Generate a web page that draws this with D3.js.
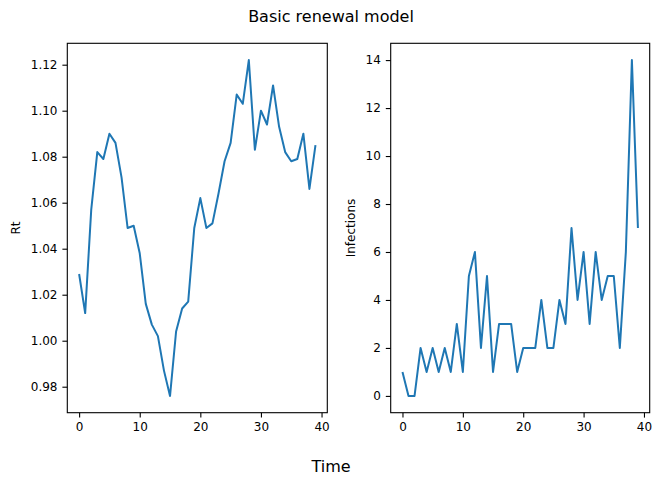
<!DOCTYPE html>
<html>
<head>
<meta charset="utf-8">
<script src="https://cdn.jsdelivr.net/npm/d3@7"></script>
<style>
  html, body { margin: 0; padding: 0; background: #fff; }
  svg text { font-family: "DejaVu Sans", sans-serif; fill: #000; }
</style>
</head>
<body>
<svg id="chart" width="661" height="484"></svg>
<script>
// ---- data ----
const time = d3.range(40);
const rtValues = [1.029,1.012,1.057,1.082,1.079,1.090,1.086,1.071,1.049,1.050,
                  1.038,1.016,1.007,1.002,0.987,0.976,1.004,1.014,1.017,1.049,
                  1.062,1.049,1.051,1.064,1.078,1.086,1.107,1.103,1.122,1.083,
                  1.100,1.094,1.111,1.093,1.082,1.078,1.079,1.090,1.066,1.085];
const infections = [1,0,0,2,1,2,1,2,1,3,1,5,6,2,5,1,3,3,3,1,
                    2,2,2,4,2,2,4,3,7,4,6,3,6,4,5,5,2,6,14,7];
const xTicks = [0,10,20,30,40];
const rtTicks = [0.98,1.00,1.02,1.04,1.06,1.08,1.10,1.12];
const infTicks = [0,2,4,6,8,10,12,14];
const title = "Basic renewal model";
const xLabel = "Time";

const svg = d3.select("#chart");
const color = "#1f77b4";
const tickFont = 12;

function panel(opts) {
  const {left, right, top, bottom, values, yTicks, yFmt, yLabel, yLabelX} = opts;
  const n = values.length;
  const xm = (n - 1) * 0.05;
  const x = d3.scaleLinear().domain([-xm, n - 1 + xm]).range([left, right]);
  const ymin = d3.min(values), ymax = d3.max(values);
  const ym = (ymax - ymin) * 0.05;
  const y = d3.scaleLinear().domain([ymin - ym, ymax + ym]).range([bottom, top]);

  const g = svg.append("g");
  g.append("path")
    .datum(values)
    .attr("fill", "none")
    .attr("stroke", color)
    .attr("stroke-width", 2)
    .attr("stroke-linejoin", "round")
    .attr("stroke-linecap", "butt")
    .attr("d", d3.line().x((d, i) => x(time[i])).y(d => y(d)));

  const xa = g.append("g").attr("transform", `translate(0,${bottom})`)
    .call(d3.axisBottom(x).tickValues(xTicks).tickSize(4.9).tickPadding(4.9).tickFormat(d3.format("d")));
  const ya = g.append("g").attr("transform", `translate(${left},0)`)
    .call(d3.axisLeft(y).tickValues(yTicks).tickSize(4.9).tickPadding(4.9).tickFormat(yFmt));
  [xa, ya].forEach(a => {
    a.select(".domain").remove();
    a.selectAll("line").attr("stroke", "#000").attr("stroke-width", 1.1);
    a.selectAll("text").style("font-family", '"DejaVu Sans", sans-serif').style("font-size", tickFont + "px").attr("fill", "#000");
  });
  g.append("rect")
    .attr("x", left).attr("y", top)
    .attr("width", right - left).attr("height", bottom - top)
    .attr("fill", "none").attr("stroke", "#000").attr("stroke-width", 1.1);
  g.append("text")
    .attr("transform", `translate(${yLabelX},${(top + bottom) / 2}) rotate(-90)`)
    .attr("text-anchor", "middle")
    .style("font-size", tickFont + "px")
    .text(yLabel);
}

panel({left: 67.3, right: 327.3, top: 43.3, bottom: 412.7, values: rtValues,
       yTicks: rtTicks, yFmt: d3.format(".2f"), yLabel: "Rt", yLabelX: 20});
panel({left: 390.7, right: 649.7, top: 43.3, bottom: 412.7, values: infections,
       yTicks: infTicks, yFmt: d3.format("d"), yLabel: "Infections", yLabelX: 355});

svg.append("text").attr("x", 331).attr("y", 22).attr("text-anchor", "middle")
  .style("font-size", "16px").text(title);
svg.append("text").attr("x", 331).attr("y", 472).attr("text-anchor", "middle")
  .style("font-size", "16px").text(xLabel);
</script>
</body>
</html>
